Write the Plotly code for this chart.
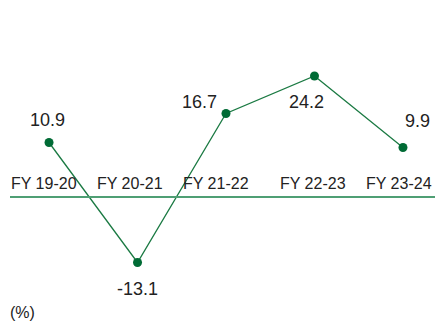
import plotly.graph_objs as go

years = ['FY 19-20', 'FY 20-21', 'FY 21-22', 'FY 22-23', 'FY 23-24']
growth = [10.9, -13.1, 16.7, 24.2, 9.9]
value_text = ['10.9', '-13.1', '16.7', '24.2', '9.9']

# label offsets (px) relative to each point
label_dx = [-2, 0, -26, -8, 15]
label_dy = [23, -26, 12, -26, 27]

xs = list(range(len(years)))

trace = go.Scatter(x=xs, y=growth, mode='lines+markers',
                   line=dict(color='#1b7a43', width=1.3),
                   marker=dict(color='#006b35', size=9))

W, H = 435, 326
layout = go.Layout(width=W, height=H, margin=dict(l=0, r=0, t=0, b=0),
                   showlegend=False,
                   xaxis=dict(range=[-0.554, 4.362], visible=False),
                   yaxis=dict(range=[-25.8, 39.4], visible=False),
                   paper_bgcolor='white', plot_bgcolor='white',
                   font=dict(family='Liberation Sans, Arial, sans-serif', color='#222222'))
fig = go.Figure(data=[trace], layout=layout)

# zero line
fig.add_shape(type='line', xref='paper', yref='y', x0=10 / W, x1=1, y0=0, y1=0,
              line=dict(color='#4f9f74', width=2))

for i, (yr, v, t) in enumerate(zip(years, growth, value_text)):
    fig.add_annotation(x=i, y=v, text=t, showarrow=False, xshift=label_dx[i], yshift=label_dy[i],
                       font=dict(size=18, color='#222222'))

# category labels sit just above the zero line
cat_dx = [-5, -8, -10, -1, -4]
for i, yr in enumerate(years):
    fig.add_annotation(x=i, y=0, text=yr, showarrow=False, xshift=cat_dx[i], yshift=14,
                       font=dict(size=16, color='#222222'))

fig.add_annotation(xref='paper', yref='paper', x=8 / W, y=(H - 312) / H, text='(%)',
                   showarrow=False, xanchor='left', yanchor='middle',
                   font=dict(size=16, color='#222222'))

# drop the default body margin so the figure fills the window
fig.write_html("out.html", config={'displayModeBar': False},
               post_script="document.body.style.margin='0';document.body.style.overflow='hidden';")
